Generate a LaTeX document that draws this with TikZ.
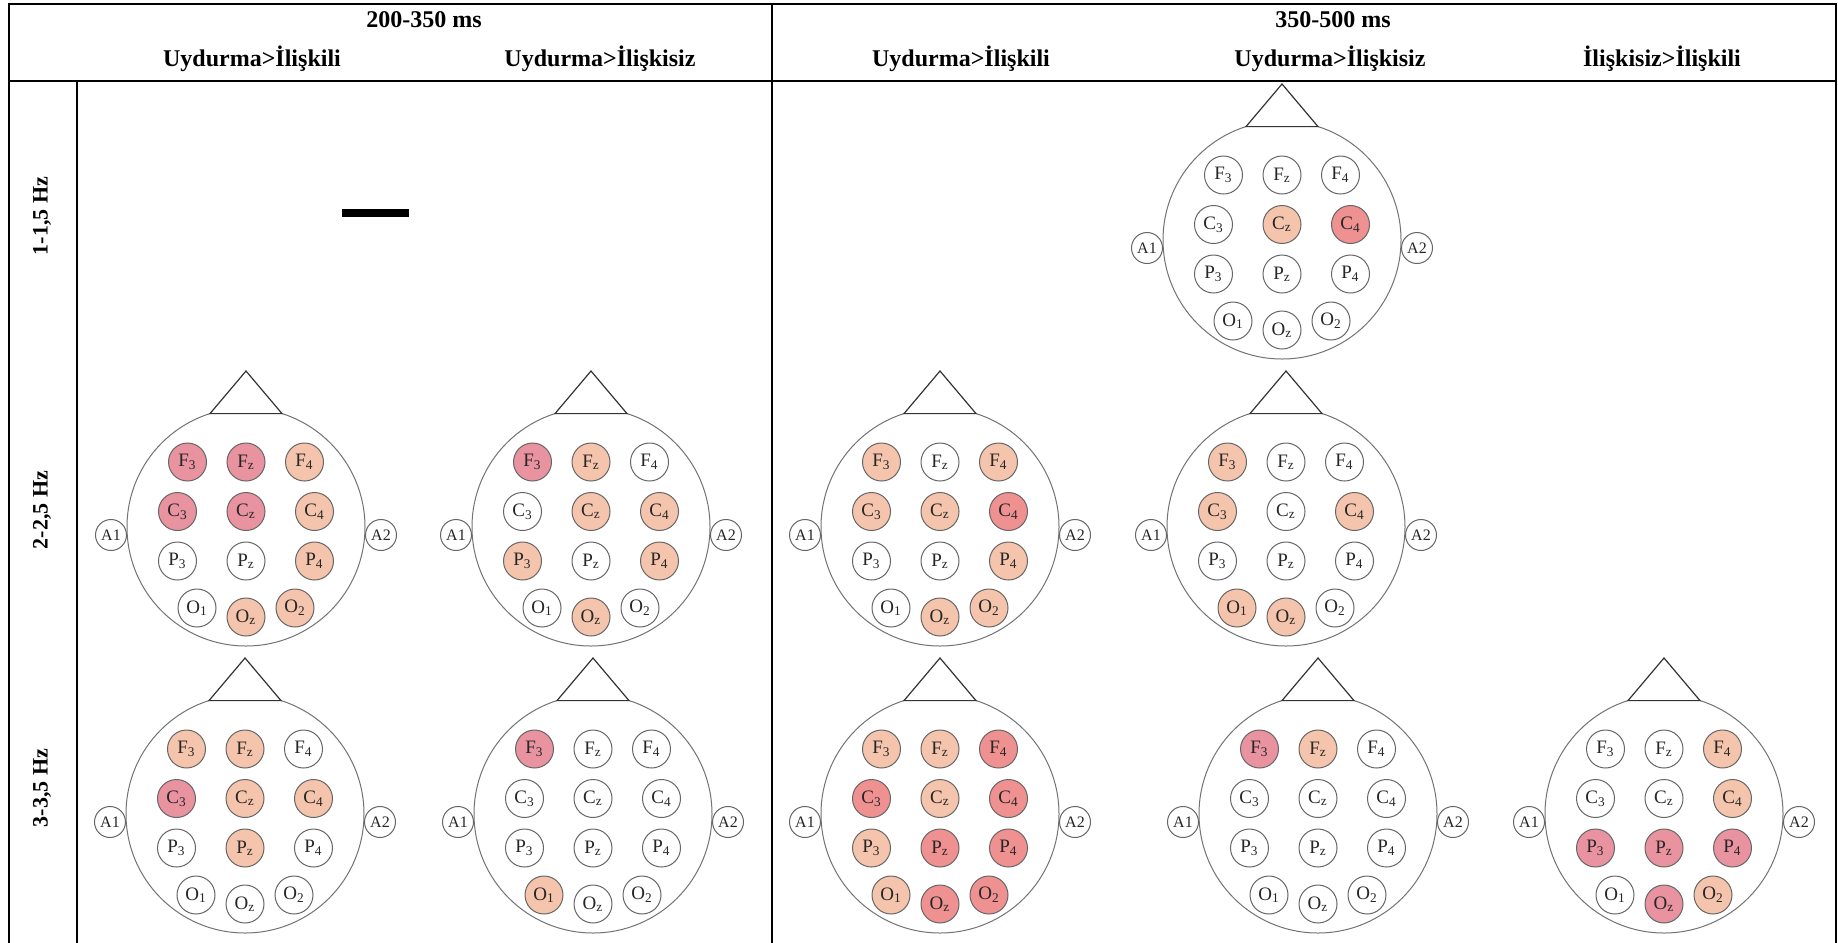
\documentclass[tikz,border=0pt]{standalone}
\usepackage{fontspec}
\setmainfont{Liberation Serif}
\definecolor{wh}{HTML}{FFFFFF}
\definecolor{pc}{HTML}{F5C4AC}
\definecolor{sa}{HTML}{F09191}
\definecolor{ro}{HTML}{E8939F}
\tikzset{
  elec/.style={circle, draw=black!60, line width=0.5pt, minimum size=19pt, inner sep=0pt, text=black!85, font=\fontsize{9.5}{10}\selectfont},
  ear/.style={circle, draw=black!60, line width=0.5pt, fill=white, minimum size=15.5pt, inner sep=0pt, text=black!85, font=\fontsize{8}{9}\selectfont},
  hdr/.style={font=\bfseries\fontsize{12}{14}\selectfont},
  rowlab/.style={font=\bfseries\fontsize{11}{13}\selectfont, rotate=90},
  tablerule/.style={line width=1pt, draw=black},
  scalp/.style={draw=black!55, line width=0.5pt},
  nose/.style={draw=black!80, fill=white, line width=0.6pt},
}
\newcommand\elab[1]{\ifcase#1 F\textsubscript{3}\or F\textsubscript{z}\or F\textsubscript{4}\or C\textsubscript{3}\or C\textsubscript{z}\or C\textsubscript{4}\or P\textsubscript{3}\or P\textsubscript{z}\or P\textsubscript{4}\or O\textsubscript{1}\or O\textsubscript{z}\or O\textsubscript{2}\fi}
\newcommand\eeghead[4]{%
  \begin{scope}[shift={(#2,#3)}]
    \draw[scalp] (0,0) circle (119);
    \filldraw[nose] (-36,-113.4) -- (0,-156) -- (36,-113.4) -- cycle;
    \node[ear] (#1A1) at (-135,8) {A1};
    \node[ear] (#1A2) at (135,8) {A2};
    \foreach \col [count=\i from 0] in {#4} {
      \pgfmathsetmacro\dx{{-58.5,0,58.5,-68.5,0,68.5,-68.5,0,68.5,-49,0,49}[\i]}
      \pgfmathsetmacro\dy{{-65,-65,-65,-15.5,-15.5,-15.5,34,34,34,81,90,81}[\i]}
      \node[elec, fill=\col] (#1e\i) at (\dx,\dy) {\elab{\i}};
    }
  \end{scope}}
\begin{document}
\begin{tikzpicture}[x=0.5pt,y=-0.5pt]
  \fill[white] (0,0) rectangle (1838,943);
  \useasboundingbox (0,0) rectangle (1838,943);
  % table
  \draw[tablerule] (9,943) -- (9,4) -- (1836,4) -- (1836,943);
  \draw[tablerule] (9,81) -- (1836,81);
  \draw[tablerule] (77,81) -- (77,943);
  \draw[tablerule] (772,4) -- (772,943);
  % headers
  \node[hdr] (t1) at (424,20) {200-350 ms};
  \node[hdr] (t2) at (1333,20) {350-500 ms};
  \node[hdr] (c1) at (252,59) {Uydurma>İlişkili};
  \node[hdr] (c2) at (600,59) {Uydurma>İlişkisiz};
  \node[hdr] (c3) at (961,59) {Uydurma>İlişkili};
  \node[hdr] (c4) at (1330,59) {Uydurma>İlişkisiz};
  \node[hdr] (c5) at (1662,59) {İlişkisiz>İlişkili};
  \node[rowlab] (r1) at (42,216) {1-1,5 Hz};
  \node[rowlab] (r2) at (42,510) {2-2,5 Hz};
  \node[rowlab] (r3) at (42,788) {3-3,5 Hz};
  % bar
  \fill[black] (342,209) rectangle (409,217);
  % heads
  \eeghead{hA}{1282}{240}{wh,wh,wh,wh,pc,sa,wh,wh,wh,wh,wh,wh}
  \eeghead{hB}{246}{527}{ro,ro,pc,ro,ro,pc,wh,wh,pc,wh,pc,pc}
  \eeghead{hC}{591}{527}{ro,pc,wh,wh,pc,pc,pc,wh,pc,wh,pc,wh}
  \eeghead{hD}{940}{527}{pc,wh,pc,pc,pc,sa,wh,wh,pc,wh,pc,pc}
  \eeghead{hE}{1286}{527}{pc,wh,wh,pc,wh,pc,wh,wh,wh,pc,pc,wh}
  \eeghead{hF}{245}{814}{pc,pc,wh,ro,pc,pc,wh,pc,wh,wh,wh,wh}
  \eeghead{hG}{593}{814}{ro,wh,wh,wh,wh,wh,wh,wh,wh,pc,wh,wh}
  \eeghead{hH}{940}{814}{pc,pc,sa,sa,pc,sa,pc,sa,sa,pc,sa,sa}
  \eeghead{hI}{1318}{814}{ro,pc,wh,wh,wh,wh,wh,wh,wh,wh,wh,wh}
  \eeghead{hJ}{1664}{814}{wh,wh,pc,wh,wh,pc,ro,ro,ro,wh,ro,pc}
\end{tikzpicture}
\end{document}
